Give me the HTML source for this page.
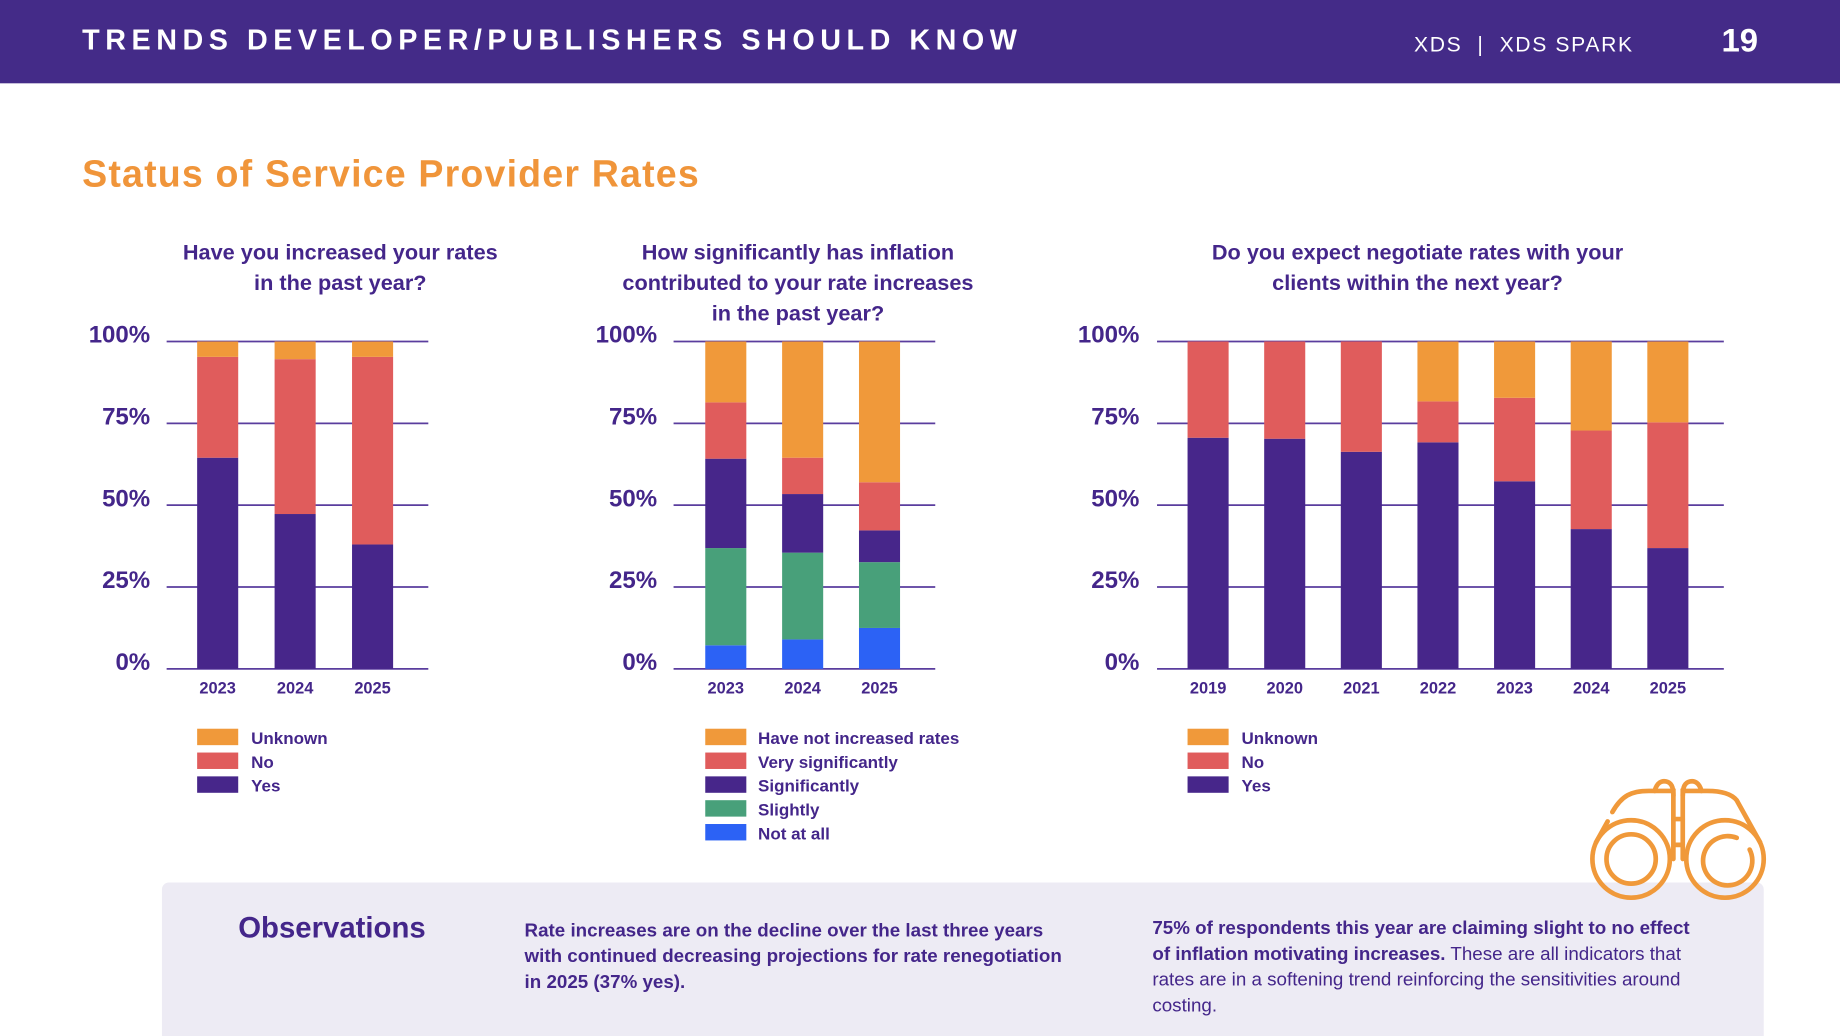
<!DOCTYPE html>
<html><head><meta charset="utf-8">
<style>
html,body{margin:0;padding:0;width:1840px;height:1036px;overflow:hidden;background:#fff;font-family:"Liberation Sans",sans-serif;}
#wrap{position:absolute;left:0;top:0;width:1568px;height:883px;transform:scale(1.17347);transform-origin:0 0;}
.hdr{position:absolute;left:0;top:0;width:1568px;height:71px;background:#442b88;}
.abs{position:absolute;white-space:nowrap;}
.ctitle{position:absolute;text-align:center;color:#44268a;font-weight:bold;font-size:18.5px;line-height:26px;white-space:nowrap;}
.obs{position:absolute;left:138px;top:752px;width:1365px;height:131px;background:#edebf4;border-radius:6px 6px 0 0;}
.otext{position:absolute;color:#44268a;font-size:16px;line-height:22px;white-space:nowrap;}
</style></head><body>
<div id="wrap">
<div class="hdr">
  <div class="abs" style="left:70px;top:21px;color:#fff;font-weight:bold;font-size:24.5px;letter-spacing:4.7px;">TRENDS DEVELOPER/PUBLISHERS SHOULD KNOW</div>
  <div class="abs" style="left:1205px;top:28px;color:#fff;font-size:18px;letter-spacing:1.4px;">XDS &nbsp;| &nbsp;XDS SPARK</div>
  <div class="abs" style="left:1467px;top:19px;color:#fff;font-weight:bold;font-size:28px;">19</div>
</div>
<div class="abs" style="left:70px;top:130px;color:#f0953a;font-weight:bold;font-size:32px;letter-spacing:1px;">Status of Service Provider Rates</div>

<div class="ctitle" style="left:110px;width:360px;top:202px;">Have you increased your rates<br>in the past year?</div>
<div class="ctitle" style="left:480px;width:400px;top:202px;">How significantly has inflation<br>contributed to your rate increases<br>in the past year?</div>
<div class="ctitle" style="left:978px;width:460px;top:202px;">Do you expect negotiate rates with your<br>clients within the next year?</div>

<svg id="charts" width="1568" height="760" style="position:absolute;left:0;top:0;" xmlns="http://www.w3.org/2000/svg"></svg>

<div class="obs">
  <div class="abs" style="left:65px;top:25px;color:#44268a;font-weight:bold;font-size:25px;">Observations</div>
  <div class="otext" style="left:309px;top:31px;font-weight:bold;">Rate increases are on the decline over the last three years<br>with continued decreasing projections for rate renegotiation<br>in 2025 (37% yes).</div>
  <div class="otext" style="left:844px;top:29px;"><b>75% of respondents this year are claiming slight to no effect<br>of inflation motivating increases.</b> These are all indicators that<br>rates are in a softening trend reinforcing the sensitivities around<br>costing.</div>
</div>

<svg width="160" height="110" style="position:absolute;left:1350px;top:660px;" viewBox="0 0 160 110">
 <g fill="none" stroke="#f0993a" stroke-width="4" stroke-linecap="round">
  <circle cx="40" cy="72" r="33"/><circle cx="40" cy="72" r="21"/>
  <circle cx="120" cy="72" r="33"/><path d="M141 64 A21 21 0 1 1 130 54"/>
  <path d="M10 58 L20 40"/><path d="M24 32 C32 18 40 14 55 14 L76 14 L76 72"/>
  <path d="M150 58 L130 22 C126 17 118 14 105 14 L84 14 L84 72"/>
  <path d="M60 14 C62 7 66 5 70 6 C74 7 76 10 76 18"/>
  <path d="M100 14 C98 7 94 5 90 6 C86 7 84 10 84 18"/>
  <path d="M76 38 L84 38 M76 60 L84 60"/>
 </g>
</svg>
</div>

<script>
// Chart 1 data
const c1Cats = ["2023","2024","2025"];
const c1Yes = [64.5, 47.3, 38.0];
const c1No = [30.8, 47.3, 57.3];
const c1Unknown = [4.7, 5.4, 4.7];
// Chart 2 data
const c2Cats = ["2023","2024","2025"];
const c2NotAtAll = [7.2, 9.0, 12.5];
const c2Slightly = [29.7, 26.5, 20.1];
const c2Significantly = [27.3, 17.9, 9.7];
const c2VerySig = [17.2, 11.1, 14.7];
const c2NotIncreased = [18.6, 35.5, 43.0];
// Chart 3 data
const c3Cats = ["2019","2020","2021","2022","2023","2024","2025"];
const c3Yes = [70.6, 70.3, 66.3, 69.2, 57.3, 42.7, 36.9];
const c3No = [29.4, 29.7, 33.7, 12.5, 25.5, 30.1, 38.4];
const c3Unknown = [0, 0, 0, 18.3, 17.2, 27.2, 24.7];
const yTicks = [0,25,50,75,100];
const yTickLabels = ["0%","25%","50%","75%","100%"];

const C = {purple:"#47268a", red:"#e05c5c", orange:"#f0993a", green:"#48a07a", blue:"#2c62f5", text:"#44268a"};
const NS = "http://www.w3.org/2000/svg";
const svg = document.getElementById('charts');
function mk(tag, attrs, parent){const e=document.createElementNS(NS,tag);for(const k in attrs)e.setAttribute(k,attrs[k]);(parent||svg).appendChild(e);return e;}
const Y0 = 570, Y1 = 291;
function yScale(v){return Y0 - (Y0-Y1)*v/100;}

function drawChart(id, x0, x1, labelX, firstBar, step, cats, series, colors, names, legendX, legendTextX){
  const g = mk('g',{});
  
  
  yTicks.forEach((t,i)=>{
    const ln = mk('line',{x1:x0,x2:x1,y1:yScale(t),y2:yScale(t),stroke:"#5a3d9e","stroke-width":1.5},g);
    
    
    const tx = mk('text',{x:labelX,y:yScale(t)+1,"text-anchor":"end","font-size":20.5,"font-weight":"bold",fill:C.text,"font-family":"Liberation Sans, sans-serif"},g);
    tx.textContent = yTickLabels[i];
    
    
  });
  cats.forEach((c,i)=>{
    const bx = firstBar + step*i;
    let acc = 0;
    series.forEach((s,si)=>{
      const v = s[i];
      if(v>0){
        const r = mk('rect',{x:bx,y:yScale(acc+v),width:35,height:yScale(acc)-yScale(acc+v),fill:colors[si]},g);
        
        
      }
      acc += v;
    });
    const tx = mk('text',{x:bx+17.5,y:591,"text-anchor":"middle","font-size":14,"font-weight":"bold",fill:C.text,"font-family":"Liberation Sans, sans-serif"},g);
    tx.textContent = c;
    
    
  });
  const n = series.length;
  for(let k=0;k<n;k++){
    const si = n-1-k;
    const yy = 621 + k*20.3;
    const sw = mk('rect',{x:legendX,y:yy,width:35,height:14,fill:colors[si]},g);
    
    
    const tx = mk('text',{x:legendTextX,y:yy+13,"font-size":14.5,"font-weight":"bold",fill:C.text,"font-family":"Liberation Sans, sans-serif"},g);
    tx.textContent = names[si];
    
    
  }
}
drawChart('chart1',142,365,128,168,66,c1Cats,[c1Yes,c1No,c1Unknown],[C.purple,C.red,C.orange],["Yes","No","Unknown"],168,214);
drawChart('chart2',574,797,560,601,65.5,c2Cats,[c2NotAtAll,c2Slightly,c2Significantly,c2VerySig,c2NotIncreased],[C.blue,C.green,C.purple,C.red,C.orange],["Not at all","Slightly","Significantly","Very significantly","Have not increased rates"],601,646);
drawChart('chart3',986,1469,971,1012,65.3,c3Cats,[c3Yes,c3No,c3Unknown],[C.purple,C.red,C.orange],["Yes","No","Unknown"],1012,1058);
</script>
</body></html>
